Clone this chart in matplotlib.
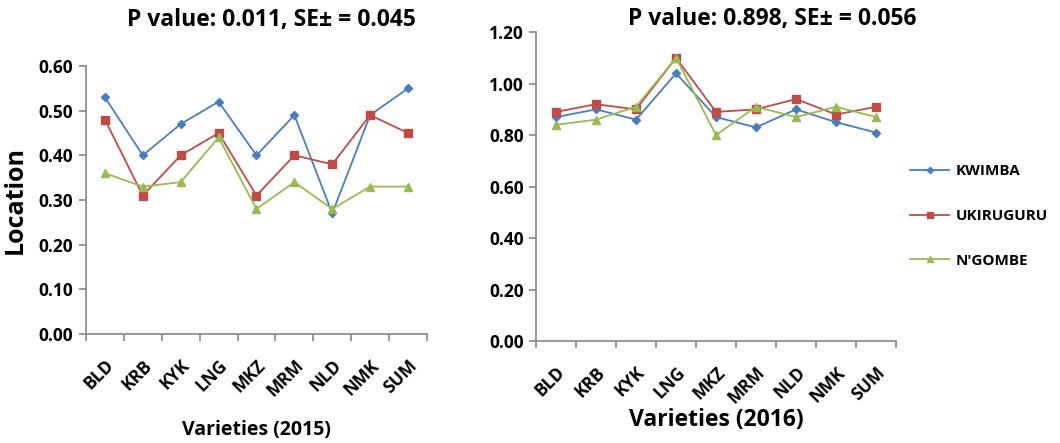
import matplotlib
matplotlib.use("Agg")
from matplotlib import pyplot as plt
import numpy as np

varieties = ["BLD", "KRB", "KYK", "LNG", "MKZ", "MRM", "NLD", "NMK", "SUM"]
sites = ["KWIMBA", "UKIRUGURU", "N'GOMBE"]

kwimba_2015 = [0.53, 0.40, 0.47, 0.52, 0.40, 0.49, 0.27, 0.49, 0.55]
ukiruguru_2015 = [0.48, 0.31, 0.40, 0.45, 0.31, 0.40, 0.38, 0.49, 0.45]
ngombe_2015 = [0.36, 0.33, 0.34, 0.44, 0.28, 0.34, 0.28, 0.33, 0.33]

kwimba_2016 = [0.87, 0.90, 0.86, 1.04, 0.87, 0.83, 0.90, 0.85, 0.81]
ukiruguru_2016 = [0.89, 0.92, 0.90, 1.10, 0.89, 0.90, 0.94, 0.88, 0.91]
ngombe_2016 = [0.84, 0.86, 0.91, 1.10, 0.80, 0.91, 0.87, 0.91, 0.87]

yticks_2015 = [0.0, 0.1, 0.2, 0.3, 0.4, 0.5, 0.6]
yticks_2016 = [0.0, 0.2, 0.4, 0.6, 0.8, 1.0, 1.2]

plt.rcParams['font.family'] = ['Open Sans', 'DejaVu Sans']
plt.rcParams['font.weight'] = 'bold'

colors = ['#4A7EBB', '#BE4B48', '#98B954']
markers = ['D', 's', '^']
msizes = [4, 6, 6]
gray = '#868686'

fig = plt.figure(figsize=(10.6, 4.43), dpi=100)
ax1 = fig.add_axes([0.0811, 0.246, 0.3217, 0.605])
ax2 = fig.add_axes([0.5057, 0.230, 0.3396, 0.6975])

def style(ax, yticks, ylim):
    x = np.arange(len(varieties))
    ax.set_xlim(-0.5, len(varieties) - 0.5)
    ax.set_ylim(*ylim)
    for side in ['top', 'right']:
        ax.spines[side].set_visible(False)
    for side in ['left', 'bottom']:
        ax.spines[side].set_color(gray)
        ax.spines[side].set_linewidth(1.2)
    ax.set_yticks(yticks)
    ax.set_yticklabels([f"{v:.2f}" for v in yticks], fontsize=12.5, fontweight='bold')
    ax.set_xticks(np.arange(-0.5, len(varieties), 1.0))
    ax.set_xticklabels([])
    ax.set_xticks(x, minor=True)
    ax.set_xticklabels(varieties, minor=True, rotation=45, ha='right', va='top',
                       rotation_mode='anchor', fontsize=12.5, fontweight='bold')
    ax.tick_params(axis='x', which='major', length=5, color=gray, width=1.2, direction='out')
    ax.tick_params(axis='x', which='minor', length=0, pad=16)
    ax.tick_params(axis='y', length=5, color=gray, width=1.2, direction='out', pad=4)

x = np.arange(len(varieties))
for vals, c, m, ms, lab in zip([kwimba_2015, ukiruguru_2015, ngombe_2015], colors, markers, msizes, sites):
    ax1.plot(x, vals, color=c, marker=m, ms=ms, lw=1.3, label=lab)
for vals, c, m, ms, lab in zip([kwimba_2016, ukiruguru_2016, ngombe_2016], colors, markers, msizes, sites):
    ax2.plot(x, vals, color=c, marker=m, ms=ms, lw=1.3, label=lab)

style(ax1, yticks_2015, (0, 0.6))
style(ax2, yticks_2016, (0, 1.2))

ax1.set_ylabel("Location", fontsize=18, fontweight='bold')
ax1.yaxis.set_label_coords(-0.17, 0.5)

fig.text(0.242, 0.03, "Varieties (2015)", ha='center', va='center', fontsize=14, fontweight='bold')
fig.text(0.676, 0.052, "Varieties (2016)", ha='center', va='center', fontsize=16.5, fontweight='bold')

fig.text(0.256, 0.955, "P value: 0.011, SE± = 0.045", ha='center', va='center', fontsize=16.5, fontweight='bold')
fig.text(0.729, 0.958, "P value: 0.898, SE± = 0.056", ha='center', va='center', fontsize=16.5, fontweight='bold')

leg = ax2.legend(loc='center left', bbox_to_anchor=(1.0, 0.405), frameon=False,
                 fontsize=11, labelspacing=2.0, handlelength=2.6, handletextpad=0.4,
                 markerscale=0.8)
for t in leg.get_texts():
    t.set_fontweight('bold')

plt.savefig("out.png", dpi=100)
